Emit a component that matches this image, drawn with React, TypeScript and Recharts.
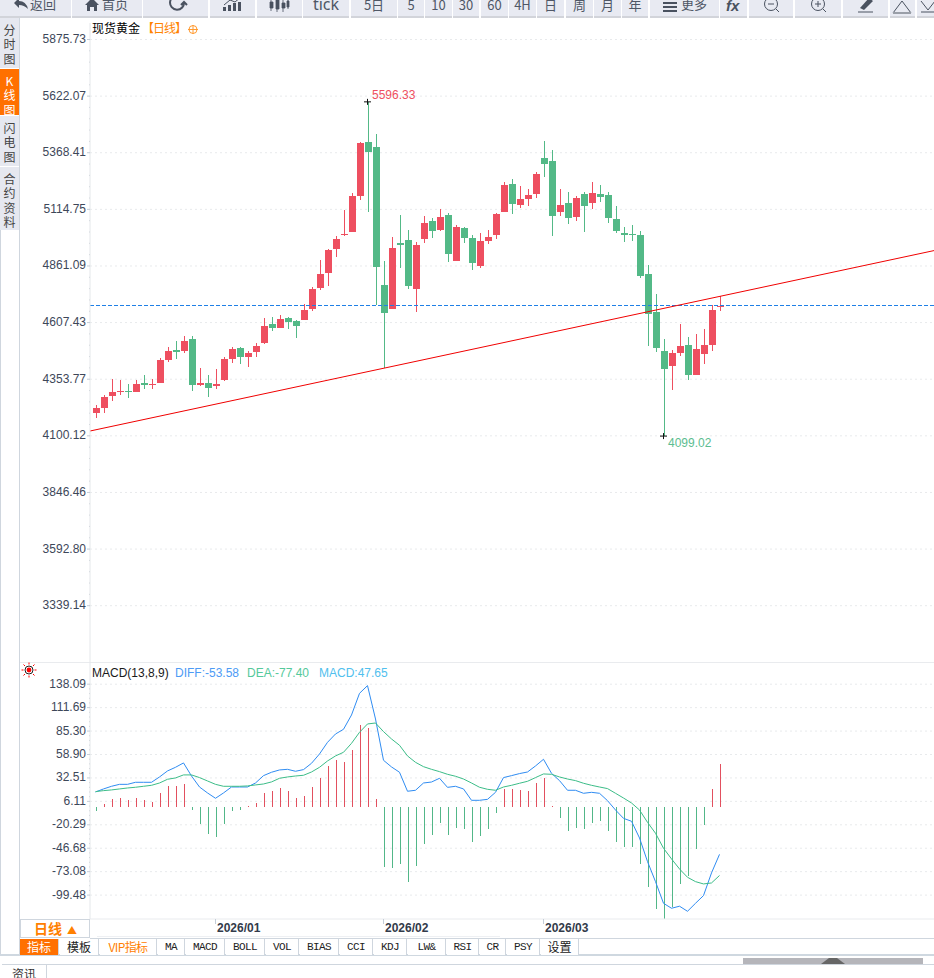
import {
  Bar,
  CartesianGrid,
  Cell,
  ComposedChart,
  Line,
  ReferenceDot,
  ReferenceLine,
  XAxis,
  YAxis,
} from "recharts";

const opens = [
  4202.5, 4225, 4279, 4297, 4301, 4297, 4337, 4328, 4337, 4440, 4485, 4480, 4534, 4328, 4337, 4323, 4350, 4444, 4494, 4453,
  4476, 4516, 4601, 4583, 4628, 4615, 4619, 4668, 4762, 4830, 4937, 5000, 5015, 5175, 5416, 5394, 4776, 4668, 4964, 4977.5,
  4758, 4982, 5063, 5022, 5089.5, 4883, 5031, 4986.5, 4861, 4973, 5000, 5103, 5228, 5134, 5161, 5184, 5345, 5331, 5103, 5143,
  5080, 5184, 5143, 5184, 5179, 5072, 5009, 5004, 5000, 4825, 4655, 4480, 4413, 4471, 4507, 4373, 4467, 4507, 4677,
];
const closes = [
  4225, 4274, 4297, 4301, 4297, 4332, 4328, 4332, 4440, 4480, 4476, 4525, 4328, 4337, 4314, 4332, 4444, 4489, 4453, 4471,
  4503, 4592, 4583, 4624, 4610, 4592, 4664, 4758, 4825, 4933, 4984, 5004, 5175, 5412, 5372, 4856, 4650, 4942, 4955, 4771,
  4955, 5054, 5018, 5080, 4915, 5036, 4986.5, 4874.5, 4973, 4991, 5094, 5224, 5139, 5161, 5179, 5273, 5318, 5085, 5134, 5076,
  5166, 5130, 5188, 5170, 5076, 5018, 5000, 5000, 4816, 4646, 4494, 4400, 4471, 4502.6, 4373, 4489, 4507, 4664, 4682,
];
const lows = [
  4181.5, 4202.5, 4256, 4283, 4270, 4297, 4310, 4310, 4337, 4431, 4444, 4471, 4301, 4323, 4274, 4310, 4346, 4426, 4422, 4408,
  4453, 4512, 4570, 4583, 4579, 4538, 4619, 4659, 4753, 4771, 4901, 4995, 5013, 5157, 5103, 4685, 4404, 4668, 4852, 4758,
  4655, 4964, 4986.5, 5018, 4879, 4883, 4964, 4843, 4852, 4960, 4982, 5103, 5094, 5121, 5130, 5166, 5260, 4995, 5085, 5049,
  5063, 5013, 5116, 5148, 5054, 5009, 4968.5, 4973, 4807, 4502.6, 4476, 4099.02, 4305.5, 4458, 4350, 4373, 4422, 4480, 4659,
];
const highs = [
  4238, 4283, 4355, 4350, 4332, 4350, 4373, 4355, 4449, 4498, 4525, 4547, 4547, 4404, 4373, 4400, 4453, 4498, 4498, 4480,
  4516, 4628, 4633, 4642, 4633, 4619, 4691, 4767, 4888, 4938, 4995, 5112, 5188, 5416.5, 5596.33, 5452, 4883, 4991, 5089.5, 5022,
  4968.5, 5085, 5076, 5116, 5098.5, 5045, 5036, 5000, 5009, 5022, 5098.5, 5237, 5251, 5219, 5206, 5282, 5421, 5381, 5206, 5192.5,
  5175, 5192.5, 5237, 5224, 5192.5, 5130, 5036, 5045, 5018, 4865.5, 4735.6, 4534, 4485, 4601, 4543, 4556, 4579, 4686, 4726.6,
];

const diffValues = [
  16.7, 20.1, 23.1, 25.3, 25.3, 27.6, 27.6, 27.6, 33.6, 40.4, 44.5, 49.4, 34.7, 22.3, 15.6, 9.6, 15.6, 22.3, 22.3, 22.3,
  26.8, 35.1, 38.9, 41.5, 42.2, 40, 41.9, 49, 59.5, 72.6, 82, 87.3, 103.4, 127.8, 136.5, 98.9, 52.4, 44.9, 38.9, 17.5,
  18.6, 26.8, 27.9, 32.1, 21.9, 23.1, 20.1, 7.3, 7.3, 8.4, 16.3, 32.9, 35.1, 37.4, 39.2, 46, 53.5, 37.7, 29.5, 18.6,
  18.6, 15.2, 16.3, 15.2, 6.9, -3.6, -13, -16.3, -35.1, -61.7, -84.3, -108.7, -114.3, -112, -117.7, -108.7, -100, -74.5, -53.58,
];
const deaValues = [
  17.1, 18.2, 19, 20.1, 21.2, 22, 23.1, 24.2, 26.8, 31, 32.5, 35.9, 35.9, 32.9, 29.1, 25.3, 23.1, 23.1, 23.1, 23.5,
  24.6, 25.7, 28, 32.1, 33.6, 34.7, 35.5, 39.2, 44.5, 51.6, 57.3, 61.4, 71.5, 83.9, 93.3, 94.4, 84.7, 76.4, 69.3, 57.3,
  50.1, 45.2, 42.2, 39.6, 36.6, 34.4, 31.3, 26.8, 22, 19.7, 18.6, 22.3, 24.2, 26.5, 28.7, 32.9, 37, 36.6, 33.6, 31.3,
  29.5, 26.5, 24.2, 22.3, 20.5, 15.2, 9.9, 4.3, -3.6, -17.5, -29.8, -46.7, -58.7, -70, -79.4, -84.3, -86.9, -85.8, -77.4,
];
const macdValues = [
  -4.7, 3.2, 8.8, 9.6, 7.7, 10, 7.7, 5.4, 15.6, 23.5, 23.5, 25.7, -3.6, -19.3, -30.6, -34, -19.3, -4.7, -3.6, 0.5,
  4.3, 15.6, 17.8, 21.2, 17.8, 10, 12.2, 22.3, 32.5, 46, 52.7, 50.5, 64, 92.2, 88.8, 8.8, -67.8, -68.9, -64.4, -84.7,
  -66.6, -41.9, -31.7, -18.2, -31.7, -23.8, -25, -39.6, -32.8, -25, -7, 20, 20, 19, 17.8, 26.8, 32.5, 1, -12.6, -27.2,
  -23.8, -25, -18.2, -16, -27.2, -39.6, -45.2, -45.2, -64.4, -90.3, -115, -126.3, -112.8, -86.9, -77.9, -47.5, -20.5, 20, 47.65,
];

const priceTicks = [5875.73, 5622.07, 5368.41, 5114.75, 4861.09, 4607.43, 4353.77, 4100.12, 3846.46, 3592.8, 3339.14];
const macdTicks = [138.09, 111.69, 85.3, 58.9, 32.51, 6.11, -20.29, -46.68, -73.08, -99.48];
const monthTicks: Record<number, string> = { 15: "2026/01", 36: "2026/02", 56: "2026/03" };
// hand-drawn trend line, from the left edge of the plot to the right edge
const trendLine = [4121.7, 4930];
const highMark = { index: 34, value: 5596.33 };
const lowMark = { index: 71, value: 4099.02 };

const toolbarButtons: [number, number, string][] = [
  [0, 71, ""], [72, 142, ""], [143, 208, ""], [210, 255, ""], [257, 302, ""], [303, 349, "tick"], [351, 397, "5日"],
  [398, 424, "5"], [425, 452, "10"], [453, 479, "30"], [481, 508, "60"], [509, 536, "4H"], [537, 564, "日"], [566, 593, "周"],
  [594, 621, "月"], [622, 648, "年"], [650, 719, ""], [720, 747, ""], [749, 793, ""], [795, 841, ""], [843, 888, ""], [890, 915, ""], [917, 940, ""],
];
const sideTabs: [number, number, string[], boolean][] = [
  [18, 68, ["分", "时", "图"], false],
  [69, 115, ["K", "线", "图"], true],
  [116, 166, ["闪", "电", "图"], false],
  [167, 230, ["合", "约", "资", "料"], false],
];
const bottomTabs: [number, number, string][] = [
  [20, 59, "指标"], [60, 99, "模板"], [100, 157, "VIP指标"], [158, 185, "MA"], [186, 225, "MACD"], [226, 265, "BOLL"], [266, 299, "VOL"],
  [300, 339, "BIAS"], [340, 373, "CCI"], [374, 407, "KDJ"], [408, 446, "LW&"], [447, 479, "RSI"], [480, 506, "CR"], [507, 540, "PSY"], [541, 579, "设置"],
];

const candles = opens.map((open, idx) => ({ idx, open, close: closes[idx], low: lows[idx], high: highs[idx] }));
const macdRows = macdValues.map((macd, idx) => ({ idx, macd, diff: diffValues[idx], dea: deaValues[idx] }));
const lastIndex = candles.length - 1;

// major ticks plus the four small marks between each pair
const withMinorTicks = (ticks: number[]) =>
  ticks.flatMap((tick, i) => {
    if (i === 0) return [tick];
    const step = (ticks[i - 1] - tick) / 5;
    return [ticks[i - 1] - step, ticks[i - 1] - step * 2, ticks[i - 1] - step * 3, ticks[i - 1] - step * 4, tick];
  });

const RED = "#ee4f60";
const GREEN = "#53b987";
const SANS = "'Liberation Sans', Arial, sans-serif";
const CJK = "'Noto Sans CJK SC', sans-serif";
const PADDING = { left: 1.5, right: 210.5 };

function Candle(props: any) {
  const { x, y, width, height, payload } = props;
  const { open, close, high, low } = payload;
  const color = close >= open ? RED : GREEN;
  const pxPerUnit = height / (high - low);
  const top = y + (high - Math.max(open, close)) * pxPerUnit;
  const bodyHeight = Math.max(1, Math.abs(open - close) * pxPerUnit);
  return (
    <g fill={color} shapeRendering="crispEdges">
      <rect x={x + (width - 1) / 2} y={y} width={1} height={height} />
      <rect x={x} y={top} width={width} height={bodyHeight} />
    </g>
  );
}

function makeAxisTick(majors: number[], format: (v: number) => string) {
  return function AxisTick({ x, y, payload }: any) {
    const major = majors.includes(payload.value);
    return (
      <g>
        <line x1={x - (major ? 3 : 1)} x2={x} y1={y} y2={y} stroke={major ? "#c5ced8" : "#d4d9de"} />
        {major && (
          <text x={x - 4} y={y + 3.5} textAnchor="end" fontSize={12} fontFamily={SANS} fill="#3d4759">
            {format(payload.value)}
          </text>
        )}
      </g>
    );
  };
}

function MonthTick({ x, y, payload }: any) {
  return (
    <g>
      <line x1={x} x2={x} y1={y} y2={y + 5} stroke="#c5ced8" />
      <text x={x + 1.5} y={y + 13} fontSize={12} fontWeight="bold" fontFamily={SANS} fill="#333b4a">
        {monthTicks[payload.value]}
      </text>
    </g>
  );
}

function Extreme({ cx, cy, text, color, dx, dy }: any) {
  return (
    <g>
      <line x1={cx - 3.5} x2={cx + 3.5} y1={cy} y2={cy} stroke="#111" />
      <line x1={cx} x2={cx} y1={cy - 3} y2={cy + 3} stroke="#111" />
      <text x={cx + dx} y={cy + dy} fontSize={12} fontFamily={SANS} fill={color}>
        {text}
      </text>
    </g>
  );
}

function PriceChart() {
  return (
    <ComposedChart width={914} height={639} data={candles} margin={{ top: 0, right: 0, bottom: 0, left: 0 }} barCategoryGap={0}>
      <CartesianGrid vertical={false} horizontalValues={priceTicks} stroke="#e8eaec" strokeDasharray="2 3" />
      <XAxis dataKey="idx" hide padding={PADDING} />
      <XAxis xAxisId="trend" type="number" domain={[0, lastIndex]} allowDataOverflow hide />
      <YAxis
        width={70}
        domain={[3086.9, 5949.6]}
        allowDataOverflow
        ticks={withMinorTicks(priceTicks)}
        interval={0}
        tickLine={false}
        tickSize={0}
        tickMargin={0}
        axisLine={{ stroke: "#e4e7ea" }}
        tick={makeAxisTick(priceTicks, (v) => v.toFixed(2))}
      />
      <ReferenceLine y={closes[closes.length - 1]} stroke="#1f80e6" strokeDasharray="3.5 2.5" shapeRendering="crispEdges" />
      <Bar dataKey={(d: any) => [d.low, d.high]} barSize={7} shape={Candle} isAnimationActive={false} />
      <ReferenceLine
        xAxisId="trend"
        segment={[
          { x: 0, y: trendLine[0] },
          { x: lastIndex, y: trendLine[1] },
        ]}
        stroke="#f00000"
      />
      <ReferenceDot
        x={highMark.index}
        y={highMark.value}
        shape={(p: any) => <Extreme {...p} text={highMark.value.toFixed(2)} color={RED} dx={4.5} dy={-3} />}
      />
      <ReferenceDot
        x={lowMark.index}
        y={lowMark.value}
        shape={(p: any) => <Extreme {...p} text={lowMark.value.toFixed(2)} color="#5cbd90" dx={4.5} dy={11} />}
      />
    </ComposedChart>
  );
}

function MacdChart() {
  return (
    <ComposedChart width={914} height={276} data={macdRows} margin={{ top: 0, right: 0, bottom: 0, left: 0 }} barCategoryGap={0}>
      <CartesianGrid vertical={false} horizontalValues={macdTicks} stroke="#e8eaec" strokeDasharray="2 3" />
      <XAxis
        dataKey="idx"
        height={19}
        padding={PADDING}
        ticks={[15, 36, 56]}
        interval={0}
        tickLine={false}
        tickSize={0}
        tickMargin={0}
        axisLine={{ stroke: "#e9ebee" }}
        tick={MonthTick}
      />
      <YAxis
        width={70}
        domain={[-126.4, 163.1]}
        allowDataOverflow
        ticks={withMinorTicks(macdTicks)}
        interval={0}
        tickLine={false}
        tickSize={0}
        tickMargin={0}
        axisLine={{ stroke: "#e4e7ea" }}
        tick={makeAxisTick(macdTicks, (v) => v.toFixed(2))}
      />
      <Bar dataKey="macd" barSize={1} isAnimationActive={false} shapeRendering="crispEdges">
        {macdRows.map((row) => (
          <Cell key={row.idx} fill={row.macd >= 0 ? "#e2505f" : "#52b788"} />
        ))}
      </Bar>
      <Line dataKey="diff" stroke="#2f8cf2" strokeWidth={1} dot={false} isAnimationActive={false} />
      <Line dataKey="dea" stroke="#3cbd88" strokeWidth={1} dot={false} isAnimationActive={false} />
    </ComposedChart>
  );
}

const abs = (left: number, top: number, width: number, height: number) =>
  ({ position: "absolute", left, top, width, height } as const);

function ToolbarIcons() {
  const ink = "#4a5260";
  return (
    <svg style={abs(0, 0, 934, 17)} viewBox="0 0 934 17">
      <path d="M14 3 L19 -2 L19 1 Q26 1 28 9 Q24 5 19 5 L19 8 Z" fill={ink} />
      <path d="M85 5 L92 -2 L99 5 L97 5 L97 11 L94 11 L94 7 L90 7 L90 11 L87 11 L87 5 Z" fill={ink} />
      <path d="M184 2 A7 7 0 1 1 179 -4 M181 5 L184 2 L187 5" fill="none" stroke={ink} strokeWidth={2} />
      <path d="M223 11 h3 v-4 h-3 Z M228 11 h3 v-6 h-3 Z M233 11 h3 v-8 h-3 Z M238 11 h3 v-9 h-3 Z" fill={ink} />
      <path d="M224 5 L230 0 L235 2 L241 -3" fill="none" stroke={ink} />
      <path d="M270 2 h3 v6 h-3 Z M276 0 h3 v9 h-3 Z M282 3 h3 v5 h-3 Z M287 1 h2 v6 h-2 Z M271 0 v11 M277 -2 v14 M283 0 v12 M288 -1 v10" fill={ink} stroke={ink} strokeWidth={0.8} />
      <path d="M663 2 h14 v2 h-14 Z M663 6 h14 v2 h-14 Z M663 10 h14 v2 h-14 Z" fill={ink} />
      <text x={681} y={9} fontSize={13} fontFamily={CJK} fill="#4f5766">更多</text>
      <text x={726} y={11} fontSize={15} fontWeight="bold" fontStyle="italic" fontFamily={SANS} fill={ink}>fx</text>
      <text x={30} y={9} fontSize={13} fontFamily={CJK} fill="#4f5766">返回</text>
      <text x={102} y={9} fontSize={13} fontFamily={CJK} fill="#4f5766">首页</text>
      <circle cx={771} cy={4} r={6.5} fill="none" stroke={ink} />
      <path d="M768 4 h6 M776 9 L779 12" stroke={ink} fill="none" />
      <circle cx={818} cy={4} r={6.5} fill="none" stroke={ink} />
      <path d="M815 4 h6 M818 1 v6 M823 9 L826 12" stroke={ink} fill="none" />
      <path d="M860 8 L869 -2 L873 1 L864 10 Z" fill={ink} />
      <path d="M858 12 h15" stroke={ink} />
      <path d="M893 13 L902 1 L911 13 Z" fill="none" stroke={ink} />
      <path d="M893 13 h18" stroke="#9a9fa8" strokeWidth={2} />
      <path d="M921 1 L928 10 L935 1 M921 12 h14" fill="none" stroke={ink} />
    </svg>
  );
}

function App() {
  return (
    <div style={{ ...abs(0, 0, 934, 978), background: "#fff", overflow: "hidden", fontFamily: SANS }}>
      {/* toolbar, clipped at the top of the page like the screenshot */}
      <div style={{ ...abs(0, 0, 934, 18), overflow: "hidden" }}>
        {toolbarButtons.map(([left, right, label]) => (
          <div
            key={left}
            style={{
              ...abs(left, 0, right - left, 16),
              background: "#e8eaf2",
              borderBottom: "2px solid #d2d4da",
              color: "#4f5766",
              fontSize: label === "tick" ? 16 : 13,
              fontFamily: label === "tick" ? "'Noto Sans', sans-serif" : CJK,
              lineHeight: "9px",
              textAlign: "center",
            }}
          >
            {label}
          </div>
        ))}
        <ToolbarIcons />
      </div>

      {/* side tabs */}
      <div style={{ ...abs(0, 230, 1, 725), background: "#cfd6de" }} />
      <div style={{ ...abs(19, 18, 1, 937), background: "#cfd6de" }} />
      {sideTabs.map(([top, bottom, chars, active]) => (
        <div
          key={top}
          style={{
            ...abs(0, top, 19, bottom - top),
            background: active ? "#ff7000" : "#e6e8f0",
            color: active ? "#fff" : "#444",
            fontSize: 12,
            fontFamily: CJK,
            lineHeight: "14.4px",
            textAlign: "center",
            paddingTop: 5,
            boxSizing: "border-box",
          }}
        >
          {chars.map((c) => (
            <div key={c}>{c}</div>
          ))}
        </div>
      ))}

      {/* price panel */}
      <div style={abs(20, 23, 914, 639)}>
        <PriceChart />
      </div>
      <div style={{ ...abs(92, 20, 130, 15), fontSize: 12, lineHeight: "15px", fontFamily: CJK, color: "#000", whiteSpace: "nowrap" }}>
        现货黄金
        <span style={{ color: "#ff8400", letterSpacing: -1, marginLeft: 2 }}>【日线】</span>
      </div>
      <svg style={abs(187, 24, 12, 12)} viewBox="0 0 12 12">
        <circle cx={6} cy={5.5} r={4} fill="none" stroke="#ff9a30" />
        <path d="M1 5.5 h10 M6 1 v9" stroke="#ff9a30" />
      </svg>

      {/* macd panel */}
      <div style={{ ...abs(20, 662, 914, 1), background: "#e9ebee" }} />
      <div style={abs(20, 662, 914, 276)}>
        <MacdChart />
      </div>
      <svg style={abs(21, 662, 16, 16)} viewBox="0 0 16 16">
        <circle cx={8} cy={8} r={4} fill="none" stroke="#222" />
        <circle cx={8} cy={8} r={2.4} fill="#f00" />
        <path d="M8 0.5 v2 M8 13.5 v2 M0.5 8 h2 M13.5 8 h2 M2.5 2.5 l1.5 1.5 M12 12 l1.5 1.5 M2.5 13.5 l1.5 -1.5 M12 4 l1.5 -1.5" stroke="#f00" />
      </svg>
      <div style={{ ...abs(92, 666, 320, 15), fontSize: 12, lineHeight: "15px" }}>
        <span style={{ position: "absolute", left: 0, color: "#1a1a1a" }}>MACD(13,8,9)</span>
        <span style={{ position: "absolute", left: 83, color: "#4d9bf5" }}>DIFF:-53.58</span>
        <span style={{ position: "absolute", left: 155, color: "#55c99b" }}>DEA:-77.40</span>
        <span style={{ position: "absolute", left: 227, color: "#50c0ee" }}>MACD:47.65</span>
      </div>

      {/* period box and lower tabs */}
      <div
        style={{
          ...abs(20, 919, 70, 19),
          boxSizing: "border-box",
          border: "1px solid #cfd6de",
          background: "#fff",
          color: "#ff8000",
          fontSize: 14,
          fontWeight: "bold",
          fontFamily: CJK,
          lineHeight: "17px",
          paddingLeft: 13,
        }}
      >
        日线
        <span style={{ fontSize: 10, marginLeft: 5 }}>▲</span>
      </div>
      <div style={{ ...abs(97, 936, 403, 1), background: "#eef0f3" }} />
      <div style={{ ...abs(90, 938, 844, 1), background: "#cfd6de" }} />
      <div style={{ ...abs(0, 954, 934, 2), background: "#cfd8e0" }} />
      {bottomTabs.map(([left, right, label]) => (
        <div
          key={left}
          style={{
            ...abs(left, 939, right - left, 16),
            boxSizing: "border-box",
            borderRight: "1px solid #cfd6de",
            background: label === "指标" ? "#ff7000" : "#fff",
            color: label === "指标" ? "#fff" : label === "VIP指标" ? "#ff8000" : "#222",
            fontSize: 11,
            letterSpacing: label.length > 3 || /^[A-Z&]+$/.test(label) ? -0.6 : 0,
            fontFamily: "'Liberation Mono', 'Noto Sans CJK SC', monospace",
            lineHeight: "16px",
            textAlign: "center",
            whiteSpace: "nowrap",
          }}
        >
          {/[\u4e00-\u9fff]/.test(label) ? <span style={{ fontSize: 12, fontFamily: CJK }}>{label}</span> : label}
        </div>
      ))}

      {/* bottom strip */}
      <div style={{ ...abs(743, 958, 180, 6), background: "#b5b5ba" }} />
      <svg style={abs(820, 957, 26, 7)} viewBox="0 0 26 7">
        <path d="M1 7 L9 1 L17 1 L25 7 Z" fill="#666" />
      </svg>
      <div style={{ ...abs(2, 964, 932, 1), background: "#cfd6de" }} />
      <div style={{ ...abs(46, 964, 1, 14), background: "#cfd6de" }} />
      <div style={{ ...abs(2, 965, 44, 13), background: "#fff", overflow: "hidden", fontSize: 12, fontFamily: CJK, lineHeight: "17px", textAlign: "center", color: "#333" }}>
        资讯
      </div>
    </div>
  );
}

export default App;
